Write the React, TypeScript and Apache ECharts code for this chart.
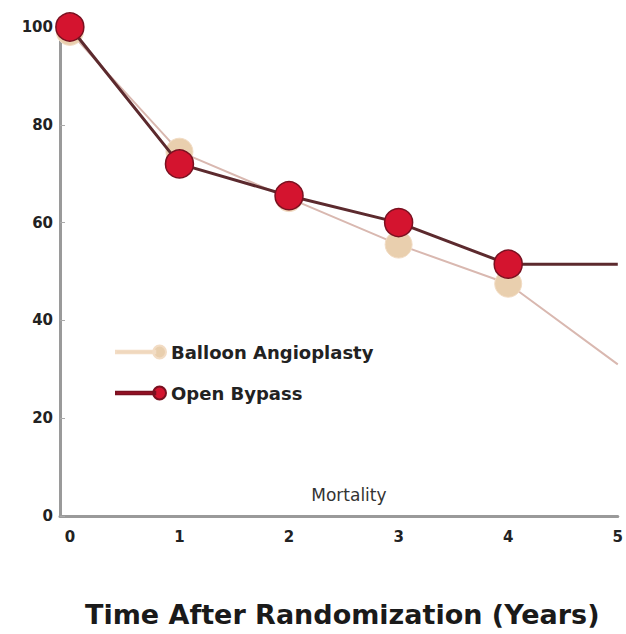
import React, { useEffect, useRef } from "react";
import * as echarts from "echarts";

const years = [0, 1, 2, 3, 4, 5];
const balloon = [99, 74.5, 65, 55.5, 47.5, 31];
const bypass = [100, 72, 65.5, 60, 51.5, 51.5];
const yTicks = [0, 20, 40, 60, 80, 100];

const legendIcon =
  "path://M0,5h38v2.4h-38z M36,6.2a6.2,6.2 0 1,0 12.4,0a6.2,6.2 0 1,0 -12.4,0z";

export default function App() {
  const ref = useRef<HTMLDivElement>(null);
  useEffect(() => {
    const chart = echarts.init(ref.current!, null, { renderer: "svg" });
    const mk = (vals: number[]) =>
      vals.map((v, i) =>
        i === vals.length - 1
          ? { value: [years[i], v], symbolSize: 0 }
          : { value: [years[i], v] }
      );
    const font = "DejaVu Sans, Liberation Sans, Arial, sans-serif";
    chart.setOption({
      animation: false,
      backgroundColor: "#ffffff",
      textStyle: { fontFamily: font },
      title: {
        text: "Time After Randomization (Years)",
        left: 80,
        top: 596,
        textStyle: { fontSize: 27, fontWeight: "bold", color: "#1a1a1a", fontFamily: font },
      },
      legend: {
        orient: "vertical",
        left: 110,
        top: 338,
        itemGap: 23,
        itemWidth: 50,
        itemHeight: 13,
        icon: legendIcon,
        textStyle: { fontSize: 18, fontWeight: "bold", color: "#222", fontFamily: font },
        data: ["Balloon Angioplasty", "Open Bypass"],
      },
      grid: { left: 60, right: 5, top: 27, bottom: 118 },
      xAxis: {
        type: "value",
        min: -0.09,
        max: 5,
        name: "Mortality",
        nameLocation: "middle",
        nameGap: -30,
        nameMoveOverlap: false,
        nameTextStyle: { fontSize: 17, color: "#333", fontFamily: font, padding: [0, 0, 0, 20] },
        splitLine: { show: false },
        axisLine: { show: true, onZero: false, lineStyle: { color: "#9a9a9a", width: 3 } },
        axisTick: { show: false },
        axisLabel: {
          customValues: years,
          fontSize: 15,
          fontWeight: "bold",
          color: "#222",
          margin: 13,
        },
      },
      yAxis: {
        type: "value",
        min: 0,
        max: 100,
        interval: 20,
        splitLine: { show: false },
        axisLine: { show: true, onZero: false, lineStyle: { color: "#9a9a9a", width: 3 } },
        axisTick: { show: true, inside: true, length: 5, lineStyle: { color: "#aaa" } },
        axisLabel: {
          fontSize: 15,
          fontWeight: "bold",
          color: "#222",
          margin: 7,
          customValues: yTicks,
        },
      },
      series: [
        {
          name: "Balloon Angioplasty",
          type: "line",
          data: mk(balloon),
          symbol: "circle",
          symbolSize: 27,
          lineStyle: { color: "#d9b8b0", width: 2 },
          itemStyle: { color: "#e9cfae", borderColor: "#f2dcc4", borderWidth: 1 },
          z: 2,
        },
        {
          name: "Open Bypass",
          type: "line",
          data: mk(bypass),
          symbol: "circle",
          symbolSize: 28,
          lineStyle: { color: "#5c2a2e", width: 3 },
          itemStyle: { color: "#d4142f", borderColor: "#7a1020", borderWidth: 1.5 },
          z: 3,
        },
      ],
    });
    return () => chart.dispose();
  }, []);
  return (
    <div
      ref={ref}
      style={{ position: "absolute", left: 0, top: 0, width: 626, height: 634 }}
    />
  );
}
